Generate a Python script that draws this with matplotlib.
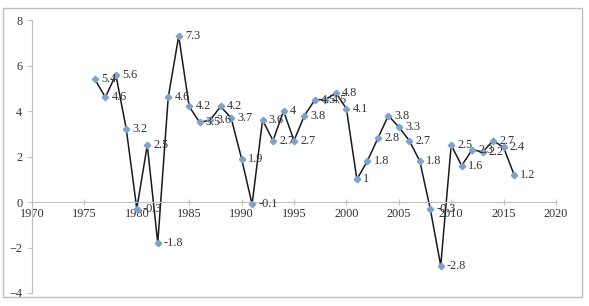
import matplotlib

matplotlib.use("Agg")
import matplotlib.pyplot as plt
from matplotlib.patches import Rectangle

years = list(range(1976, 2017))
values = [
    5.4, 4.6, 5.6, 3.2, -0.3, 2.5, -1.8, 4.6, 7.3, 4.2,
    3.5, 3.6, 4.2, 3.7, 1.9, -0.1, 3.6, 2.7, 4.0, 2.7,
    3.8, 4.5, 4.5, 4.8, 4.1, 1.0, 1.8, 2.8, 3.8, 3.3,
    2.7, 1.8, -0.3, -2.8, 2.5, 1.6, 2.3, 2.2, 2.7, 2.4,
    1.2,
]
x_ticks = [1970, 1975, 1980, 1985, 1990, 1995, 2000, 2005, 2010, 2015, 2020]
y_ticks = [-4, -2, 0, 2, 4, 6, 8]

plt.rcParams["font.family"] = ["Liberation Serif", "DejaVu Serif"]

fig = plt.figure(figsize=(5.89, 3.06), dpi=100)
ax = fig.add_axes([0.0543, 0.0425, 0.8897, 0.892])

axis_grey = "#BFBFBF"
fig.patches.append(
    Rectangle((0.005, 0.029), 0.983, 0.944, transform=fig.transFigure,
              fill=False, edgecolor=axis_grey, linewidth=1.0)
)

ax.plot(years, values, color="#1a1a1a", linewidth=1.1, zorder=2)
ax.plot(years, values, linestyle="none", marker="D", markersize=3.3,
        color="#7FA2CC", zorder=3)

for yr, v in zip(years, values):
    label = f"{v:g}"
    ax.annotate(label, (yr, v), xytext=(4.5, 0), textcoords="offset points",
                ha="left", va="center", fontsize=8.8, color="#333333")

ax.set_xlim(1970, 2020)
ax.set_ylim(-4, 8)
ax.set_xticks(x_ticks)
ax.set_yticks(y_ticks)

for side in ("top", "right"):
    ax.spines[side].set_visible(False)
ax.spines["bottom"].set_position(("data", 0))
ax.spines["bottom"].set_color(axis_grey)
ax.spines["left"].set_color(axis_grey)

ax.tick_params(axis="x", direction="inout", length=4, color=axis_grey,
               labelsize=8.8, pad=2, labelcolor="#333333")
ax.tick_params(axis="y", direction="out", length=3, color=axis_grey,
               labelsize=8.8, pad=4, labelcolor="#333333")

fig.savefig("out.png", dpi=100)
